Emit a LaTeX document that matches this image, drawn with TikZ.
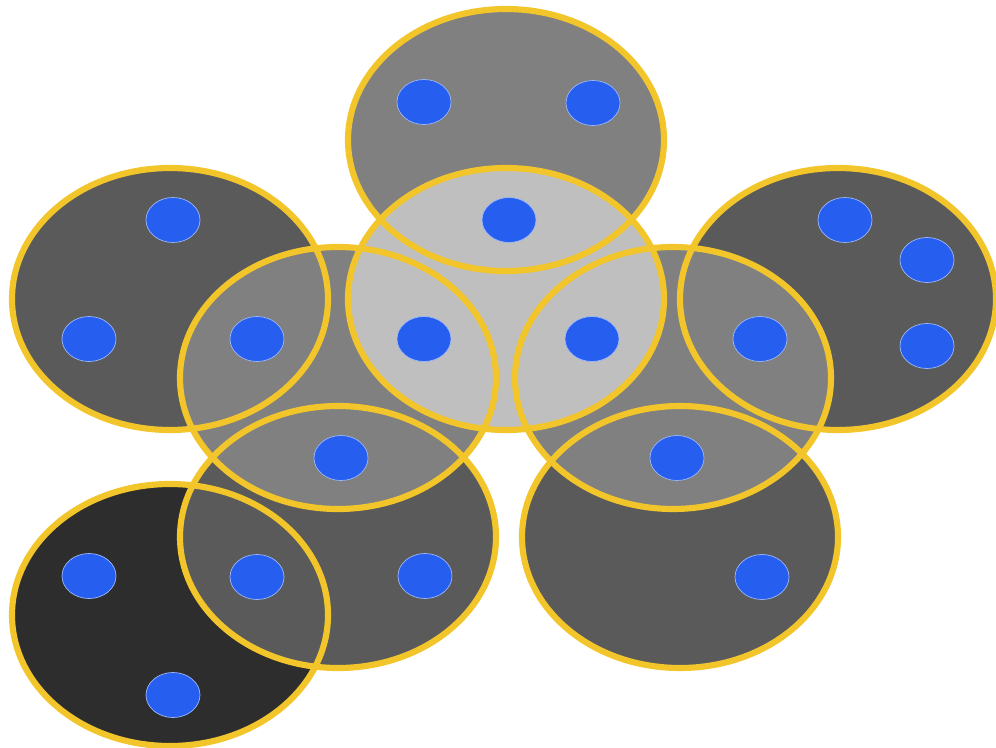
\documentclass[tikz,border=0pt]{standalone}
\usetikzlibrary{shapes.geometric}
\definecolor{rimY}{HTML}{F2C52A}
\definecolor{vtxB}{HTML}{265EF0}
\definecolor{gyA}{HTML}{2D2D2D}
\definecolor{gyB}{HTML}{5A5A5A}
\definecolor{gyC}{HTML}{808080}
\definecolor{gyD}{HTML}{BFBFBF}

\begin{document}
\begin{tikzpicture}[
  hedge/.style={ellipse,inner sep=0pt,outer sep=0pt,minimum width=31.6mm,minimum height=26.2mm},
  rim/.style={draw=rimY,line width=1.75pt},
  vtx/.style={ellipse,fill=vtxB,draw=vtxB!45!white,line width=0.2pt,inner sep=0pt,minimum width=5.4mm,minimum height=4.5mm}]

\useasboundingbox (0,0) rectangle (9.96,7.47);

% hyperedges, darkest first so the lighter ones lie on top
\foreach \n/\x/\y/\c in {S/1.70/1.32/gyA, L/1.70/4.48/gyB, R/8.38/4.48/gyB,
    P/3.38/2.10/gyB, Q/6.80/2.10/gyB, A/5.06/6.07/gyC, M/3.38/3.69/gyC,
    N/6.73/3.69/gyC, B/5.06/4.48/gyD}
  \node[hedge,fill=\c] (\n) at (\x,\y) {};

% rims over all fills
\foreach \n in {S,L,R,P,Q,A,M,N,B}
  \draw[rim] (\n.center) ellipse [x radius=15.8mm,y radius=13.1mm];

% vertices
\foreach \x/\y [count=\i] in {4.24/6.45, 5.93/6.44, 5.09/5.27, 4.24/4.08, 5.92/4.08,
    1.73/5.27, 0.89/4.08, 2.57/4.08, 8.45/5.27, 9.27/4.87, 9.27/4.01, 7.60/4.08,
    3.41/2.89, 4.25/1.71, 2.57/1.70, 0.89/1.71, 1.73/0.52, 6.77/2.89, 7.62/1.70}
  \node[vtx] (v\i) at (\x,\y) {};

\end{tikzpicture}
\end{document}
